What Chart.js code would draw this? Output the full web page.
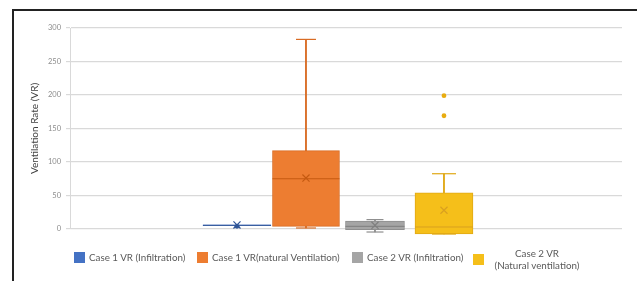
<!DOCTYPE html>
<html>
<head>
<title>Ventilation Rate</title>
<script src="https://cdn.jsdelivr.net/npm/chart.js"></script>
<style>
body { margin: 0; background: #fff; font-family: Lato, sans-serif; }
.frame { position: absolute; left: 12px; top: 9px; width: 640px; height: 300px;
  border-left: 2px solid #222; border-top: 2px solid #222; }
.wrap { position: absolute; left: 0; top: 0; width: 637px; height: 281px; }
.legend { position: absolute; top: 0; left: 0; font-size: 9.8px; color: #595959; }
.legend div { position: absolute; white-space: nowrap; }
.legend .sw { width: 11px; height: 11px; }
</style>
</head>
<body>
<div class="frame"></div>
<div class="wrap"><canvas id="boxChart" width="637" height="281"></canvas></div>
<div class="legend">
  <div class="sw" style="left:74px;top:252px;background:#4472C4"></div>
  <div style="left:89px;top:251px">Case 1 VR (Infiltration)</div>
  <div class="sw" style="left:197px;top:252px;background:#ED7D31"></div>
  <div style="left:212px;top:251px">Case 1 VR(natural Ventilation)</div>
  <div class="sw" style="left:352px;top:252px;background:#A5A5A5"></div>
  <div style="left:367px;top:251px">Case 2 VR (Infiltration)</div>
  <div class="sw" style="left:473px;top:254px;background:#F5BF1A"></div>
  <div style="left:491px;top:247px;text-align:center;width:92px">Case 2 VR<br>(Natural ventilation)</div>
</div>
<script>
// data
const seriesNames = ['Case 1 VR (Infiltration)', 'Case 1 VR(natural Ventilation)', 'Case 2 VR (Infiltration)', 'Case 2 VR (Natural ventilation)'];
const slot = [1, 2, 3, 4];
const minVal = [5, 1.5, -4.5, -7.5];
const q1 = [5, 4, -1, -7.5];
const median = [5.5, 75, 4, 3];
const q3 = [6.2, 117, 12, 54];
const maxVal = [6.2, 283, 14, 82.5];
const meanVal = [6, 76, 5.5, 28];
const outliers = [[4], [], [], [199, 169]];
const yTicks = [0, 50, 100, 150, 200, 250, 300];

const fill = ['#4472C4', '#ED7D31', '#A5A5A5', '#F5BF1A'];
const edge = ['#4472C4', '#D96C24', '#8F8F8F', '#E0A815'];
const dark = ['#2F5597', '#C55A11', '#7F7F7F', '#D9A020'];
const widths = [68, 67, 59, 58];
const capHalf = [0, 10, 8.5, 12];

const datasets = [];
// whisker lines (drawn underneath)
slot.forEach((s, i) => {
  datasets.push({ type: 'bar', label: seriesNames[i] + ' whisker', data: [{ x: s, y: [minVal[i], maxVal[i]] }],
    backgroundColor: edge[i], barThickness: 1.2, grouped: false, order: 10, clip: false });
});
// boxes
slot.forEach((s, i) => {
  datasets.push({ type: 'bar', label: seriesNames[i], data: [{ x: s, y: [q1[i], q3[i]] }],
    backgroundColor: fill[i], borderColor: edge[i], borderWidth: 1, borderSkipped: false,
    barThickness: widths[i], grouped: false, order: 5, clip: false });
});
// caps
slot.forEach((s, i) => {
  if (maxVal[i] === q3[i] && minVal[i] === q1[i]) return;
  datasets.push({ type: 'scatter', label: 'cap', data: [{ x: s, y: maxVal[i] }, { x: s, y: minVal[i] }],
    pointStyle: 'line', radius: capHalf[i], borderColor: edge[i], borderWidth: 1.2, order: 1, clip: false });
});
// medians
slot.forEach((s, i) => {
  datasets.push({ type: 'scatter', label: 'median', data: [{ x: s, y: median[i] }],
    pointStyle: 'line', radius: widths[i] / 2, borderColor: dark[i], borderWidth: 1, order: 1, clip: false });
});
// means and outliers
slot.forEach((s, i) => {
  datasets.push({ type: 'scatter', label: 'mean', data: [{ x: s, y: meanVal[i] }],
    pointStyle: 'crossRot', radius: 5, borderColor: dark[i], borderWidth: 1.2, order: 0, clip: false });
  if (outliers[i].length) {
    datasets.push({ type: 'scatter', label: 'outlier', data: outliers[i].map(v => ({ x: s, y: v })),
      pointStyle: 'circle', radius: 2.4, backgroundColor: i === 0 ? dark[i] : '#E8AC10', borderWidth: 0, order: 0, clip: false });
  }
});

new Chart(document.getElementById('boxChart'), {
  type: 'bar',
  data: { datasets: datasets },
  options: {
    responsive: false,
    animation: false,
    layout: { autoPadding: false, padding: { left: 26, top: 28, right: 15, bottom: 52 } },
    plugins: { legend: { display: false }, tooltip: { enabled: false } },
    scales: {
      x: { type: 'linear', min: -1.42, max: 6.58, display: false, offset: false },
      y: {
        min: 0, max: 300,
        afterFit: scale => { scale.width = 44; },
        afterBuildTicks: scale => { scale.ticks = yTicks.map(v => ({ value: v })); },
        grid: { color: '#D9D9D9', lineWidth: 1.2, tickLength: 4 },
        border: { display: true, color: '#D9D9D9' },
        ticks: { font: { family: 'Lato', size: 7.5 }, color: '#8C8C8C', padding: 5 },
        title: { display: true, text: 'Ventilation Rate (VR)', font: { family: 'Lato', size: 10 },
          color: '#404040', padding: { top: 3, bottom: 0 } }
      }
    }
  }
});
</script>
</body>
</html>
